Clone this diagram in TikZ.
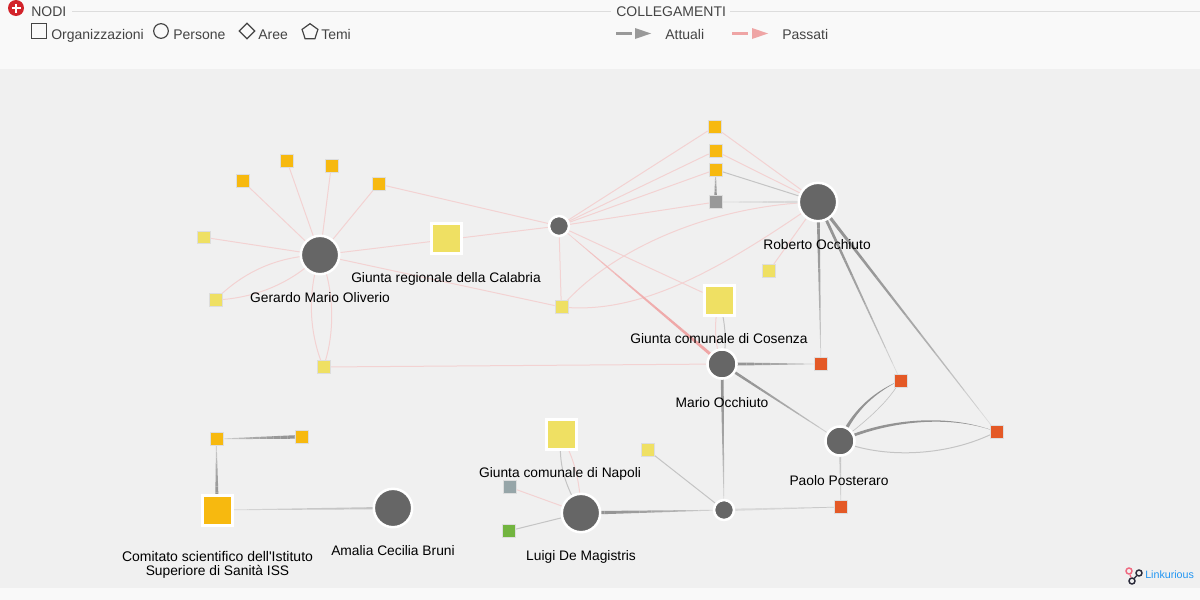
\documentclass[tikz,border=0pt]{standalone}
\usepackage{fontspec}
\setmainfont{Liberation Sans}
\newfontfamily\plainf{Liberation Sans}
\usetikzlibrary{calc,shapes.geometric}
\pgfdeclarelayer{bg}
\pgfdeclarelayer{edges}
\pgfsetlayers{bg,edges,main}
\definecolor{canvasc}{HTML}{F0F0F0}
\definecolor{panelc}{HTML}{F9F9F9}
\definecolor{rulec}{HTML}{DDDDDD}
\definecolor{orgc}{HTML}{F7B90F}
\definecolor{yelc}{HTML}{EFE063}
\definecolor{redc}{HTML}{E45926}
\definecolor{grayc}{HTML}{999999}
\definecolor{slatec}{HTML}{96A5A8}
\definecolor{greenc}{HTML}{72B43F}
\definecolor{circc}{HTML}{666666}
\definecolor{pinkc}{HTML}{F3D2D2}
\definecolor{pinkd}{HTML}{EFA5A5}
\definecolor{linkc}{HTML}{C4C4C4}
\definecolor{lined}{HTML}{939393}
\definecolor{linel}{HTML}{DADADA}
\definecolor{txtc}{HTML}{444444}
\definecolor{plusred}{HTML}{D2232A}
\definecolor{linkblue}{HTML}{2196F3}
\definecolor{logopink}{HTML}{EF6A80}
\definecolor{logodark}{HTML}{2B2B3A}
\tikzset{
  x=0.75pt,y=-0.75pt,
  small/.style={rectangle,minimum size=9.6pt,inner sep=0pt,fill=#1,draw=rulec,line width=.3pt},
  big/.style={rectangle,minimum size=22.5pt,inner sep=0pt,fill=#1,draw=white,line width=2.25pt},
  person/.style={circle,minimum size=#1,inner sep=0pt,fill=circc,draw=white,line width=1.9pt},
  lab/.style={font=\fontsize{10.35pt}{10.5pt}\selectfont,text=black,inner sep=0pt,align=center,anchor=base},
  leg/.style={font=\fontsize{10.5pt}{11pt}\selectfont,text=txtc,inner sep=0pt,anchor=base west},
  past/.style={draw=pinkc,line width=.75pt},
  curr/.style={draw=linkc,line width=.75pt},
  legshape/.style={draw=txtc,line width=.9pt,inner sep=0pt,fill=none},
}
% tapered link: from #1 (wide, half width #3 pt, colour #4) to #2 (thin, colour #5)
\newcommand\taper[5]{%
  \foreach \i in {0,...,11}{%
    \pgfmathsetmacro\ta{\i/12*0.985}%
    \pgfmathsetmacro\tb{(\i+1)/12*0.985}%
    \pgfmathsetmacro\wa{#3*(1-\i/12)+0.2}%
    \pgfmathsetmacro\wb{#3*(1-(\i+1)/12)+0.2}%
    \pgfmathsetmacro\mv{100*(1-(\i/11)*(\i/11))}%
    \colorlet{tmpc}{#4!\mv!#5}%
    \fill[tmpc] ($($(#1)!\ta!(#2)$)!\wa pt!90:(#2)$) -- ($($(#1)!\tb!(#2)$)!\wb pt!90:(#2)$) -- ($($(#1)!\tb!(#2)$)!\wb pt!-90:(#2)$) -- ($($(#1)!\ta!(#2)$)!\wa pt!-90:(#2)$) -- cycle;
  }%
}
\begin{document}
\begin{tikzpicture}
\useasboundingbox (0,0) rectangle (1200,600);
\begin{pgfonlayer}{bg}
\fill[panelc] (0,0) rectangle (1200,600);
\fill[canvasc] (0,69) rectangle (1200,588);
\draw[rulec,line width=.75pt] (72,11.5) -- (611,11.5);
\draw[rulec,line width=.75pt] (730,11.5) -- (1200,11.5);
\end{pgfonlayer}
% header
\node[circle,fill=plusred,minimum size=12pt,inner sep=0pt] (plus) at (16,8) {};
\fill[white] (11.5,7) rectangle (20.5,9);
\fill[white] (15,3.5) rectangle (17,12.5);
\node[leg] (nodi) at (31,16) {NODI};
\node[legshape,rectangle,minimum size=10.8pt] (lo) at (39,31) {};
\node[leg] (tlo) at (51,39) {Organizzazioni};
\node[legshape,circle,minimum size=11pt] (lp) at (161,31) {};
\node[leg] (tlp) at (173,39) {Persone};
\node[legshape,diamond,minimum size=12pt] (la) at (247,31) {};
\node[leg] (tla) at (258,39) {Aree};
\node[legshape,regular polygon,regular polygon sides=5,minimum size=12.5pt] (lt) at (310,32) {};
\node[leg] (tlt) at (321,39) {Temi};
\node[leg] (coll) at (616,16) {COLLEGAMENTI};
\coordinate (ga) at (616,33); \coordinate (gb) at (632,33);
\coordinate (pa) at (732,33); \coordinate (pb) at (748,33);
\fill[grayc] (ga)++(0,-1.5) rectangle (632,34.5);
\fill[grayc] (635,28) -- (651,33.5) -- (635,39) -- cycle;
\fill[pinkd] (pa)++(0,-1.5) rectangle (748,34.5);
\fill[pinkd] (752,28) -- (768,33.5) -- (752,39) -- cycle;
\node[leg] (ta) at (665,39) {Attuali};
\node[leg] (tb) at (782,39) {Passati};
% nodes
\node[person=28.8pt] (G) at (320,255) {};
\node[small=orgc] (o1) at (242.3,180.8) {};
\node[small=orgc] (o2) at (286.9,160.8) {};
\node[small=orgc] (o3) at (331.3,165.8) {};
\node[small=orgc] (o4) at (378.3,184) {};
\node[small=yelc] (y1) at (203.3,237.2) {};
\node[small=yelc] (y2) at (215.3,300) {};
\node[small=yelc] (y3) at (323.3,367) {};
\node[big=yelc] (GR) at (446,238.4) {};
\node[person=15pt] (S) at (559,226) {};
\node[small=yelc] (y4) at (561.3,307) {};
\node[small=orgc] (o5) at (714.3,126.8) {};
\node[small=orgc] (o6) at (715.3,150.8) {};
\node[small=orgc] (o7) at (715.6,169.6) {};
\node[small=grayc] (gy) at (715.6,202) {};
\node[person=28.8pt] (RO) at (818,202) {};
\node[small=yelc] (y5) at (768.9,271) {};
\node[big=yelc] (GC) at (719,300) {};
\node[person=21.8pt] (MO) at (722,364) {};
\node[small=redc] (r1) at (820.9,364) {};
\node[small=redc] (r2) at (900.4,380.3) {};
\node[small=redc] (r3) at (996.3,431.8) {};
\node[person=21.8pt] (PP) at (840,441) {};
\node[small=redc] (r4) at (840.8,507) {};
\node[person=15pt] (C) at (724,510) {};
\node[small=yelc] (y6) at (647.3,449.8) {};
\node[big=yelc] (GN) at (561,434.4) {};
\node[small=slatec] (gs) at (509.3,487) {};
\node[small=greenc] (gr) at (508.3,531) {};
\node[person=28.8pt] (LU) at (581,513) {};
\node[small=orgc] (o8) at (216.3,439) {};
\node[small=orgc] (o9) at (301.3,436.8) {};
\node[big=orgc] (CS) at (217,510) {};
\node[person=28.8pt] (AB) at (393,508) {};
% labels
\node[lab] (lG) at (320,302) {Gerardo Mario Oliverio};
\node[lab] (lGR) at (446,282) {Giunta regionale della Calabria};
\node[lab] (lRO) at (817,249) {Roberto Occhiuto};
\node[lab] (lGC) at (719,343) {Giunta comunale di Cosenza};
\node[lab] (lMO) at (722,407) {Mario Occhiuto};
\node[lab] (lPP) at (839,485) {Paolo Posteraro};
\node[lab] (lGN) at (560,477) {Giunta comunale di Napoli};
\node[lab] (lLU) at (581,560) {Luigi De Magistris};
\node[lab] (lAB) at (393,555) {Amalia Cecilia Bruni};
\node[lab,font=\fontsize{10.5pt}{10.5pt}\selectfont] (lCS) at (217.5,561) {Comitato scientifico dell{\plainf '}Istituto};
\node[lab] (lCSb) at (217.5,575) {Superiore di Sanità ISS};
% logo
\node[inner sep=0pt,anchor=west,font=\fontsize{8pt}{9pt}\selectfont,text=linkblue] (lk) at (1145,575) {Linkurious};
\node[circle,draw=logodark,line width=1.1pt,minimum size=4.5pt,inner sep=0pt] (k1) at (1139,573) {};
\node[circle,draw=logodark,line width=1.1pt,minimum size=4.5pt,inner sep=0pt] (k2) at (1132,581) {};
\node[circle,draw=logopink,line width=1.1pt,minimum size=4.5pt,inner sep=0pt] (k3) at (1129,571) {};
\draw[logodark,line width=1pt] (k1) -- (k2);
\draw[logopink,line width=1pt] (k3) -- (k2);
% links
\begin{pgfonlayer}{edges}
\foreach \a/\b in {G/o1,G/o2,G/o3,G/o4,G/y1,G/S,G/y4,o4/S,S/o5,S/o6,S/o7,S/gy,S/y4,S/GC,RO/o5,RO/o6,RO/y5,y3/MO,gs/LU}
  \draw[past] (\a) -- (\b);
\draw[past] (G.center) .. controls (280,256) and (245,270) .. (y2.center);
\draw[past] (G.center) .. controls (295,280) and (260,298) .. (y2.center);
\draw[past] (G.center) .. controls (308,290) and (308,330) .. (y3.center);
\draw[past] (G.center) .. controls (335,290) and (335,335) .. (y3.center);
\draw[past] (y4.center) .. controls (610,250) and (710,205) .. (RO.center);
\draw[past] (y4.center) .. controls (640,315) and (720,270) .. (RO.center);
\draw[past] (GC.center) .. controls (714,320) and (714,345) .. (MO.center);
\draw[curr] (GC.center) .. controls (725,320) and (728,345) .. (MO.center);
\draw[past] (GN.center) .. controls (572,455) and (580,475) .. (LU.center);
\draw[curr] (GN.center) .. controls (558,465) and (565,485) .. (LU.center);
\taper{MO}{S}{1.0}{pinkd}{pinkc}
\draw[curr] (o7) -- (RO);
\draw[curr] (y6) -- (C);
\draw[curr] (gr) -- (LU);
\taper{gy}{o7}{.9}{lined}{linel}
\taper{RO}{gy}{.8}{linel}{linel}
\taper{RO}{r1}{1.0}{lined}{linel}
\taper{RO}{r2}{1.0}{lined}{linel}
\taper{RO}{r3}{1.05}{lined}{linel}
\taper{MO}{r1}{1.1}{lined}{linel}
\taper{MO}{PP}{.9}{lined}{linel}
\taper{MO}{C}{1.0}{lined}{linel}
\taper{LU}{C}{1.2}{lined}{linel}
\taper{C}{r4}{.7}{linel}{linkc}
\taper{PP}{r4}{.6}{linkc}{linel}
\taper{o9}{o8}{1.2}{lined}{linel}
\taper{CS}{o8}{1.2}{lined}{linel}
\taper{AB}{CS}{.7}{linkc}{linel}
\fill[lined] ($(PP)+(-1.5,-1)$) .. controls (850,414) and (870,393) .. (r2.center) .. controls (870,395) and (852,416) .. ($(PP)+(1.5,1.5)$) -- cycle;
\draw[line width=.5pt,draw=linkc] (PP.center) .. controls (868,420) and (890,400) .. (r2.center);
\fill[lined] ($(PP)+(0,-1.5)$) .. controls (880,420.5) and (945,411.5) .. (r3.center) .. controls (945,412.5) and (880,423.5) .. ($(PP)+(0,1.5)$) -- cycle;
\draw[curr] (PP.center) .. controls (880,458) and (945,458) .. (r3.center);
\end{pgfonlayer}
\end{tikzpicture}
\end{document}
